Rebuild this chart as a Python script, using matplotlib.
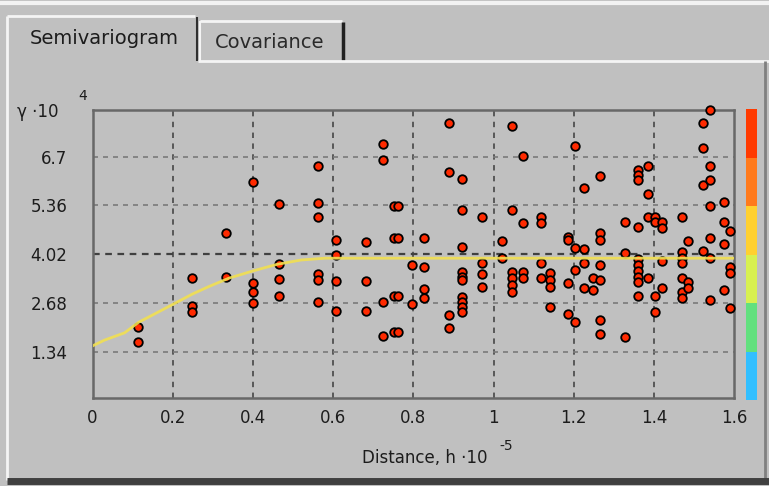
import matplotlib.pyplot as plt
from matplotlib.lines import Line2D

# Experimental semivariogram cloud (distance in 1e-5 units, gamma in 1e4 units)
dist = [0.114, 0.114,
        0.247, 0.247, 0.247,
        0.333, 0.333,
        0.400, 0.400, 0.400, 0.400,
        0.464, 0.464, 0.464, 0.464,
        0.563, 0.563, 0.563, 0.563, 0.563, 0.563,
        0.607, 0.607, 0.607, 0.607,
        0.683, 0.683, 0.683,
        0.724, 0.724, 0.724, 0.724,
        0.752, 0.752, 0.752, 0.752,
        0.762, 0.762, 0.762, 0.762,
        0.798, 0.798,
        0.827, 0.827, 0.827, 0.827,
        0.890, 0.890, 0.890, 0.890,
        0.921, 0.921, 0.921, 0.921, 0.921, 0.921, 0.921, 0.921, 0.921, 0.921,
        0.971, 0.971, 0.971, 0.971,
        1.020, 1.020,
        1.047, 1.047, 1.047, 1.047, 1.047, 1.047,
        1.074, 1.074, 1.074, 1.074,
        1.118, 1.118, 1.118, 1.118,
        1.141, 1.141, 1.141, 1.141,
        1.185, 1.185, 1.185, 1.185,
        1.203, 1.203, 1.203, 1.203,
        1.225, 1.225, 1.225, 1.225,
        1.249, 1.249,
        1.266, 1.266, 1.266, 1.266, 1.266, 1.266, 1.266,
        1.328, 1.328, 1.328,
        1.361, 1.361, 1.361, 1.361, 1.361, 1.361, 1.361, 1.361, 1.361, 1.361,
        1.386, 1.386, 1.386, 1.386,
        1.403, 1.403, 1.403, 1.403,
        1.420, 1.420, 1.420, 1.420,
        1.469, 1.469, 1.469, 1.469, 1.469, 1.469, 1.469,
        1.486, 1.486, 1.486,
        1.522, 1.522, 1.522, 1.522,
        1.540, 1.540, 1.540, 1.540, 1.540, 1.540, 1.540,
        1.576, 1.576, 1.576, 1.576,
        1.590, 1.590, 1.590, 1.590]
gamma = [2.01, 1.60,
         3.36, 2.60, 2.44,
         4.59, 3.40,
         5.99, 3.22, 2.99, 2.69,
         5.40, 3.75, 3.33, 2.88,
         6.43, 5.42, 5.05, 3.47, 3.31, 2.70,
         4.41, 4.00, 3.28, 2.46,
         4.36, 3.28, 2.46,
         7.05, 6.61, 2.70, 1.78,
         5.35, 4.47, 2.88, 1.89,
         5.35, 4.47, 2.88, 1.89,
         3.72, 2.64,
         4.47, 3.66, 3.05, 2.82,
         7.62, 6.29, 2.35, 2.00,
         6.09, 5.22, 4.23, 3.54, 3.40, 3.31, 2.85, 2.71, 2.58, 2.44,
         5.03, 3.77, 3.47, 3.13,
         4.38, 3.91,
         7.55, 5.22, 3.54, 3.36, 3.17, 2.99,
         6.73, 4.87, 3.54, 3.36,
         5.05, 4.87, 3.77, 3.36,
         3.49, 3.31, 3.13, 2.58,
         4.50, 4.41, 3.22, 2.39,
         6.98, 4.18, 3.59, 2.15,
         5.85, 4.16, 3.77, 3.10,
         3.36, 3.04,
         6.17, 4.59, 4.41, 3.72, 3.31, 2.21, 1.83,
         4.91, 4.04, 1.75,
         6.34, 6.20, 6.06, 4.78, 3.89, 3.72, 3.56, 3.40, 3.26, 2.88,
         6.44, 5.66, 5.05, 3.36,
         5.05, 4.91, 2.88, 2.44,
         4.91, 4.75, 3.83, 3.10,
         5.05, 4.09, 3.91, 3.77, 3.37, 2.99, 2.82,
         4.38, 3.26, 3.10,
         7.62, 6.93, 5.92, 4.11,
         7.98, 6.44, 6.06, 5.33, 4.47, 3.91, 2.76,
         5.46, 4.91, 4.29, 3.03,
         4.66, 3.68, 3.49, 2.55]

# Fitted model curve
model_h = [0.0, 0.03, 0.08, 0.115, 0.15, 0.20, 0.25, 0.29, 0.34, 0.40, 0.46, 0.52, 0.58, 1.60]
model_g = [1.50, 1.66, 1.86, 2.15, 2.35, 2.64, 2.93, 3.13, 3.36, 3.56, 3.74, 3.86, 3.91, 3.91]

xticks = [0, 0.2, 0.4, 0.6, 0.8, 1.0, 1.2, 1.4, 1.6]
xlabels = ['0', '0.2', '0.4', '0.6', '0.8', '1', '1.2', '1.4', '1.6']
yticks = [1.34, 2.68, 4.02, 5.36, 6.7]
ylabels = ['1.34', '2.68', '4.02', '5.36', '6.7']

# colour scale on the right, top to bottom
scale_colors = ['#ff3a00', '#ff7a1c', '#ffd030', '#d8f050', '#62e07e', '#32bfff']

W, H = 769, 486
bg = '#c0c0c0'
txt = '#1c1c1c'

fig = plt.figure(figsize=(W / 100, H / 100), dpi=100, facecolor=bg)


def fx(px):
    return px / W


def fy(py):
    return 1 - py / H


def fline(xs, ys, color, lw):
    fig.add_artist(Line2D([fx(v) for v in xs], [fy(v) for v in ys],
                          transform=fig.transFigure, color=color, lw=lw,
                          solid_capstyle='butt'))


# dialog frame and tabs
fline([0, W], [3, 3], '#f2f2f2', 3)
fline([7, 7], [16, 480], '#f4f4f4', 2)
fline([7, 195], [16, 16], '#f4f4f4', 2)
fline([197, 197], [17, 61], '#303030', 1.5)
fline([200, 200], [21, 61], '#f4f4f4', 1.5)
fline([200, 342], [21, 21], '#f4f4f4', 2)
fline([343, 343], [22, 61], '#202020', 2.5)
fline([198, W], [61, 61], '#f4f4f4', 2)
fline([765, 765], [61, 480], '#808080', 2)
fline([7, W], [481, 481], '#404040', 5)

fig.text(fx(104), fy(38), 'Semivariogram', ha='center', va='center',
         fontsize=14, color=txt, family='DejaVu Sans')
fig.text(fx(270), fy(42), 'Covariance', ha='center', va='center',
         fontsize=14, color='#2a2a2a', family='DejaVu Sans')

# main plot
ax = fig.add_axes([fx(92.5), fy(398), 641.6 / W, 288 / H])
ax.set_facecolor(bg)
ax.set_xlim(0, 1.6)
ax.set_ylim(0.07, 7.98)

for xv in xticks[1:-1]:
    ax.axvline(xv, color='#505050', lw=1.3, dashes=(3, 3), zorder=1)
for yv in yticks:
    if yv == 4.02:
        ax.axhline(yv, color='#404040', lw=1.6, dashes=(3, 2.5), zorder=1)
    else:
        ax.axhline(yv, color='#7a7a7a', lw=1.2, dashes=(3, 3), zorder=1)

ax.scatter(dist, gamma, s=38, c='#ff2a00', edgecolors='black', linewidths=1.3,
           zorder=3, clip_on=False)
ax.plot(model_h, model_g, color='#f2e050', lw=2, alpha=0.9, zorder=4)

ax.set_xticks(xticks)
ax.set_xticklabels(xlabels)
ax.set_yticks(yticks)
ax.set_yticklabels(ylabels)
ax.tick_params(length=0, labelsize=12, labelcolor=txt)
ax.tick_params(axis='x', pad=8)
ax.tick_params(axis='y', pad=18)
for sp in ax.spines.values():
    sp.set_color('#686868')
    sp.set_linewidth(1.8)

fig.text(fx(17), fy(112), '\u03b3 \u00b710', ha='left', va='center',
         fontsize=12, color=txt, family='DejaVu Sans')
fig.text(fx(78), fy(96), '4', ha='left', va='center',
         fontsize=10, color=txt, family='DejaVu Sans')
fig.text(fx(425), fy(458), 'Distance, h \u00b710', ha='center', va='center',
         fontsize=12, color=txt, family='DejaVu Sans')
fig.text(fx(499), fy(446), '-5', ha='left', va='center',
         fontsize=10, color=txt, family='DejaVu Sans')

# colour bar
cax = fig.add_axes([fx(746), fy(400), 11 / W, 291 / H])
n = len(scale_colors)
for i, col in enumerate(scale_colors):
    cax.bar(0, 1, bottom=n - 1 - i, width=1, color=col)
cax.set_xlim(-0.5, 0.5)
cax.set_ylim(0, n)
cax.axis('off')

fig.savefig('out.png', dpi=100, facecolor=bg)
